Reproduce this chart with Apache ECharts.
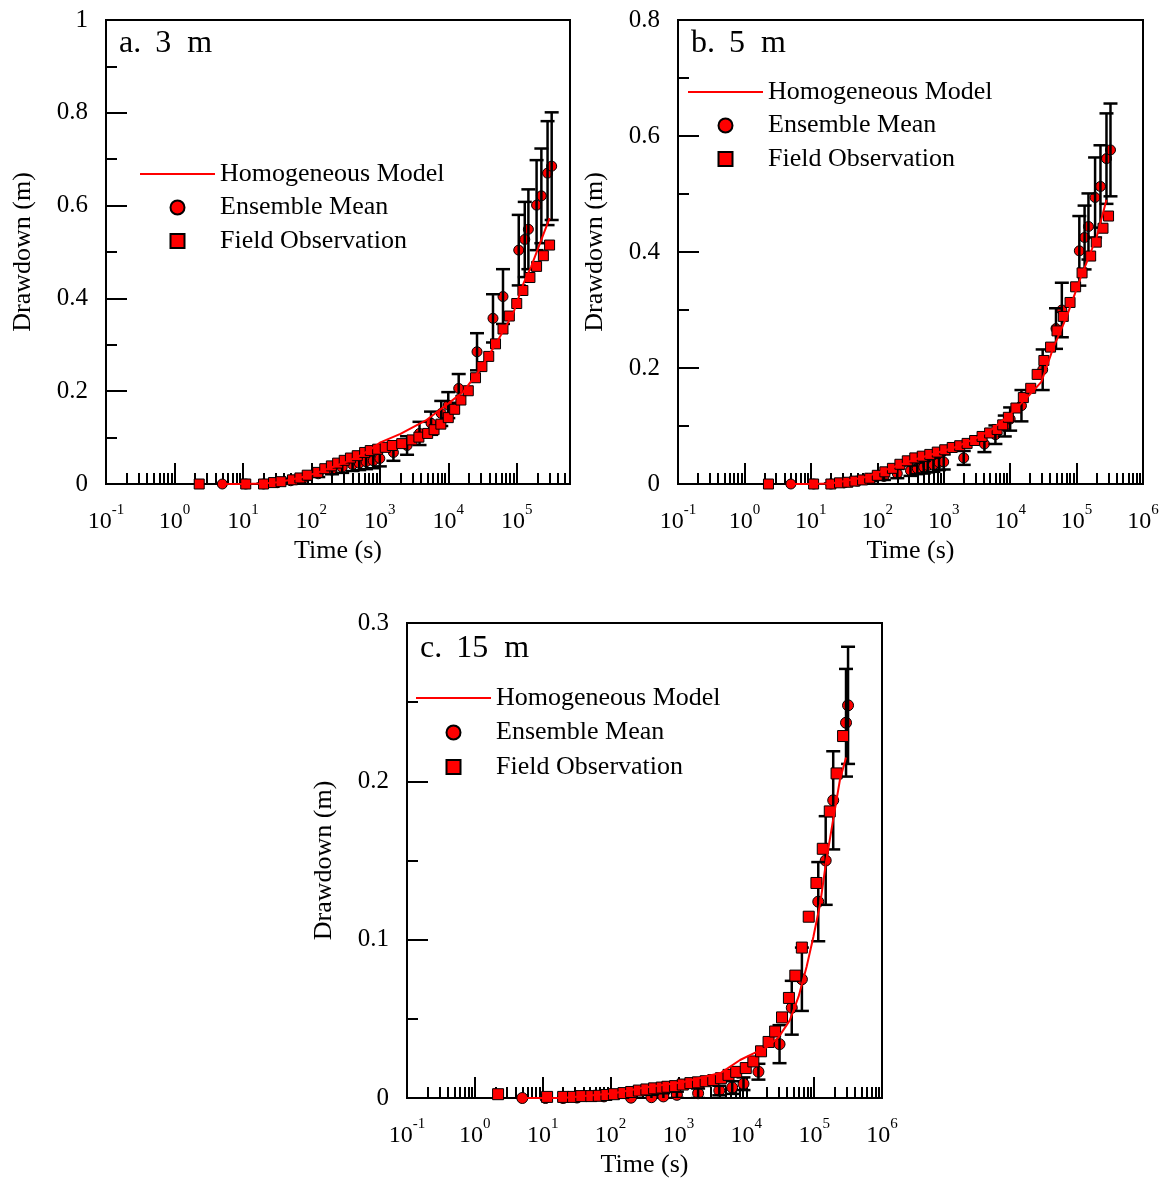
<!DOCTYPE html>
<html>
<head>
<meta charset="utf-8">
<script src="https://cdn.jsdelivr.net/npm/echarts@6/dist/echarts.min.js"></script>
<style>html,body{margin:0;padding:0;background:#fff}#c{width:1167px;height:1184px}</style>
</head>
<body>
<div id="c"></div>
<script>
// ---------------- DATA ----------------
// Panel a (3 m)
const modelA_t = [5, 10, 20, 32, 50, 80, 126, 200, 316, 500, 724, 1000, 2000, 4700, 9300, 16600, 28800, 50000, 89000, 126000, 162000, 219000, 302000];
const modelA_s = [0, 0, 0.001, 0.004, 0.009, 0.016, 0.025, 0.036, 0.047, 0.060, 0.074, 0.089, 0.108, 0.137, 0.170, 0.199, 0.246, 0.303, 0.368, 0.433, 0.468, 0.519, 0.573];
const ensA_t = [5, 11, 20, 32, 50, 80, 126, 200, 282, 400, 500, 630, 800, 1000, 1580, 2500, 3800, 5600, 7900, 10000, 14200, 26300, 45000, 63000, 107000, 131000, 148000, 195000, 229000, 282000, 324000];
const ensA_m = [0, 0, 0, 0.003, 0.007, 0.014, 0.022, 0.030, 0.036, 0.042, 0.045, 0.048, 0.050, 0.055, 0.068, 0.083, 0.109, 0.131, 0.152, 0.170, 0.206, 0.285, 0.357, 0.404, 0.504, 0.527, 0.549, 0.601, 0.621, 0.670, 0.685];
const ensA_e = [0, 0, 0.001, 0.002, 0.003, 0.005, 0.007, 0.009, 0.012, 0.014, 0.015, 0.016, 0.016, 0.017, 0.018, 0.020, 0.025, 0.025, 0.027, 0.028, 0.031, 0.040, 0.052, 0.059, 0.076, 0.081, 0.086, 0.097, 0.102, 0.112, 0.116];
const obsA_t = [2.3, 11, 20, 28, 36, 53, 68, 87, 124, 157, 196, 242, 302, 372, 468, 600, 724, 930, 1200, 1520, 2090, 2950, 3720, 5000, 6200, 7800, 10000, 12400, 15300, 19600, 25000, 31000, 39000, 49000, 63000, 78000, 100000, 123000, 156000, 195000, 245000, 302000];
const obsA_s = [0, 0, 0, 0.003, 0.005, 0.009, 0.013, 0.019, 0.025, 0.033, 0.039, 0.045, 0.051, 0.056, 0.061, 0.068, 0.072, 0.075, 0.079, 0.083, 0.087, 0.095, 0.101, 0.109, 0.117, 0.129, 0.143, 0.161, 0.181, 0.201, 0.229, 0.253, 0.275, 0.302, 0.334, 0.362, 0.389, 0.417, 0.445, 0.469, 0.492, 0.515];

// Panel b (5 m)
const modelB_t = [5, 10, 20, 62, 389, 1450, 3090, 5250, 10000, 19000, 29500, 44700, 70800, 117000, 200000, 282000];
const modelB_s = [0, 0, 0.001, 0.011, 0.043, 0.063, 0.079, 0.094, 0.120, 0.152, 0.176, 0.235, 0.288, 0.358, 0.425, 0.490];
const ensB_t = [5, 11, 20, 32, 50, 80, 126, 200, 316, 400, 500, 575, 700, 850, 1000, 2000, 4100, 6000, 8300, 10000, 14800, 30900, 49000, 60000, 110000, 132000, 151000, 190000, 229000, 282000, 324000];
const ensB_m = [0, 0, 0, 0.002, 0.005, 0.009, 0.013, 0.018, 0.023, 0.027, 0.029, 0.032, 0.033, 0.037, 0.038, 0.045, 0.069, 0.085, 0.100, 0.112, 0.135, 0.197, 0.268, 0.300, 0.402, 0.425, 0.444, 0.494, 0.513, 0.561, 0.576];
const ensB_e = [0, 0, 0.001, 0.002, 0.003, 0.004, 0.006, 0.008, 0.009, 0.010, 0.011, 0.012, 0.012, 0.013, 0.013, 0.012, 0.014, 0.016, 0.018, 0.020, 0.027, 0.035, 0.035, 0.047, 0.060, 0.055, 0.057, 0.069, 0.071, 0.078, 0.080];
const obsB_t = [2.3, 11, 20, 27, 36, 46, 60, 77, 100, 130, 169, 219, 283, 367, 475, 617, 800, 1035, 1343, 1740, 2250, 2920, 3780, 4910, 6370, 7730, 9400, 12200, 15800, 20400, 25500, 32200, 40600, 50700, 63100, 79800, 96800, 121000, 163000, 198000, 250000, 303000];
const obsB_s = [0, 0, 0, 0.002, 0.003, 0.005, 0.007, 0.010, 0.015, 0.021, 0.027, 0.034, 0.040, 0.045, 0.048, 0.051, 0.055, 0.059, 0.063, 0.066, 0.070, 0.075, 0.082, 0.088, 0.094, 0.102, 0.115, 0.131, 0.149, 0.165, 0.189, 0.213, 0.236, 0.264, 0.289, 0.313, 0.340, 0.364, 0.393, 0.417, 0.441, 0.462];

// Panel c (15 m)
const modelC_t = [5, 20, 112, 316, 1150, 4270, 8100, 12600, 20000, 29500, 43700, 58900, 77600, 97700, 123000, 151000, 191000, 240000, 295000];
const modelC_s = [0, 0, 0.003, 0.0066, 0.010, 0.016, 0.024, 0.028, 0.032, 0.038, 0.049, 0.064, 0.083, 0.102, 0.123, 0.150, 0.176, 0.201, 0.215];
const ensC_t = [5, 11, 20, 32, 80, 200, 400, 600, 950, 1950, 4000, 6200, 9100, 15100, 30900, 46800, 66000, 115000, 148000, 191000, 295000, 316000];
const ensC_m = [0, 0, 0, 0.0003, 0.001, 0.0002, 0.0005, 0.001, 0.002, 0.003, 0.0047, 0.0066, 0.009, 0.0166, 0.034, 0.057, 0.075, 0.124, 0.150, 0.188, 0.237, 0.248];
const ensC_e = [0, 0, 0, 0, 0.0005, 0.001, 0.0015, 0.002, 0.002, 0.003, 0.003, 0.004, 0.004, 0.005, 0.012, 0.017, 0.020, 0.025, 0.028, 0.031, 0.034, 0.037];
const obsC_t = [2.2, 11.6, 20, 28, 37, 52, 67, 87, 112, 155, 201, 261, 337, 438, 568, 689, 893, 1160, 1500, 1940, 2520, 3260, 4230, 5470, 7100, 9820, 12700, 16500, 21300, 26600, 33600, 42500, 52800, 65900, 83200, 108000, 134000, 170000, 214000, 267000];
const obsC_s = [0.0024, 0.0007, 0.0007, 0.0007, 0.0012, 0.0012, 0.0014, 0.0019, 0.0024, 0.0031, 0.0038, 0.0047, 0.0054, 0.0061, 0.0066, 0.0071, 0.0075, 0.0085, 0.0094, 0.0099, 0.0106, 0.0113, 0.0125, 0.0146, 0.0165, 0.0189, 0.0231, 0.0295, 0.0354, 0.042, 0.0509, 0.0632, 0.0773, 0.095, 0.1145, 0.1358, 0.1574, 0.181, 0.205, 0.2286];

// Tick values / labels / texts
const xMajorA = [0.1, 1, 10, 100, 1000, 10000, 100000];
const xMajorBC = [0.1, 1, 10, 100, 1000, 10000, 100000, 1000000];
const panelLetters = ['a.', 'b.', 'c.'];
const panelDepths = ['3', '5', '15'];
const panelUnit = 'm';
const legendNames = ['Homogeneous Model', 'Ensemble Mean', 'Field Observation'];
const xName = 'Time (s)';
const yName = 'Drawdown (m)';

// ---------------- LAYOUT / STYLE ----------------
const FONT = '"Liberation Serif", "Times New Roman", Times, serif';
const RED = '#ff0000';
const INK = '#000000';

const PANELS = [
  {box: [106, 20, 464, 464], xMax: 6e5, majors: xMajorA, yMax: 1, yStep: 0.2, leg: [140, 161], legGap: 7.5, titleTop: 28, mk: 10,
   model: [modelA_t, modelA_s], ens: [ensA_t, ensA_m, ensA_e], obs: [obsA_t, obsA_s]},
  {box: [678, 20, 465, 464], xMax: 1e6, majors: xMajorBC, yMax: 0.8, yStep: 0.2, leg: [688, 79], legGap: 7.5, titleTop: 28, mk: 10,
   model: [modelB_t, modelB_s], ens: [ensB_t, ensB_m, ensB_e], obs: [obsB_t, obsB_s]},
  {box: [407, 623, 475, 475], xMax: 1e6, majors: xMajorBC, yMax: 0.3, yStep: 0.1, leg: [416, 685], legGap: 8.5, titleTop: 633, mk: 11,
   model: [modelC_t, modelC_s], ens: [ensC_t, ensC_m, ensC_e], obs: [obsC_t, obsC_s]}
];

function minorTicks(maxV) {
  const out = [];
  for (let e = -1; e <= 6; e++) {
    for (let k = 2; k <= 9; k++) {
      const v = k * Math.pow(10, e);
      if (v <= maxV * 1.0001) out.push(v);
    }
  }
  return out;
}

const SQUARE_ICON = 'path://M0,0L10,0L10,10L0,10Z';
const LINE_ICON = 'path://M0,0L150,0L150,4L0,4Z';

const tickLine = {color: INK, width: 2};
const grids = [], xAxes = [], yAxes = [], series = [], titles = [], legends = [];

PANELS.forEach((p, i) => {
  grids.push({left: p.box[0], top: p.box[1], width: p.box[2], height: p.box[3], show: true,
    borderColor: INK, borderWidth: 2, backgroundColor: 'rgba(0,0,0,0)', containLabel: false, outerBoundsMode: 'none'});

  xAxes.push({
    type: 'log', logBase: 10, gridIndex: i, min: 0.1, max: p.xMax, position: 'bottom',
    axisLine: {show: true, lineStyle: {color: INK, width: 2}},
    axisTick: {show: true, inside: true, length: 21, lineStyle: tickLine, customValues: p.majors},
    minorTick: {show: false},
    splitLine: {show: false},
    axisLabel: {
      show: true, customValues: p.majors, margin: 19, color: INK, fontFamily: FONT,
      formatter: v => '{b|10}{s|' + Math.round(Math.log10(v)) + '}',
      rich: {
        b: {fontFamily: FONT, fontSize: 24, color: INK, lineHeight: 38},
        s: {fontFamily: FONT, fontSize: 15, color: INK, lineHeight: 15, verticalAlign: 'top'}
      }
    },
    name: xName, nameLocation: 'middle', nameGap: 54,
    nameTextStyle: {fontFamily: FONT, fontSize: 26, color: INK}
  });
  xAxes.push({
    type: 'log', logBase: 10, gridIndex: i, min: 0.1, max: p.xMax, position: 'bottom',
    axisLine: {show: false},
    axisTick: {show: true, inside: true, length: 11, lineStyle: tickLine, customValues: minorTicks(p.xMax)},
    axisLabel: {show: false},
    splitLine: {show: false}
  });
  yAxes.push({
    type: 'value', gridIndex: i, min: 0, max: p.yMax, interval: p.yStep,
    axisLine: {show: true, lineStyle: {color: INK, width: 2}},
    axisTick: {show: true, inside: true, length: 21, lineStyle: tickLine},
    minorTick: {show: true, splitNumber: 2, length: 11, lineStyle: tickLine},
    splitLine: {show: false}, minorSplitLine: {show: false},
    axisLabel: {margin: 18, color: INK, fontFamily: FONT, fontSize: 25},
    name: yName, nameLocation: 'middle', nameGap: 70, nameRotate: 90,
    nameTextStyle: {fontFamily: FONT, fontSize: 26, color: INK}
  });

  const xi = 2 * i;
  const ensData = p.ens[0].map((t, k) => [t, p.ens[1][k], p.ens[2][k]]);
  series.push({
    type: 'scatter', name: legendNames[1], xAxisIndex: xi, yAxisIndex: i, z: 2,
    symbol: 'circle', symbolSize: p.mk,
    itemStyle: {color: RED, borderColor: INK, borderWidth: 1, opacity: 1},
    data: ensData.map(d => [d[0], d[1]])
  });
  series.push({
    type: 'custom', name: 'err' + i, xAxisIndex: xi, yAxisIndex: i, z: 3, clip: true, silent: true,
    encode: {x: 0, y: 1},
    renderItem: (params, api) => {
      const x = api.value(0), m = api.value(1), e = api.value(2);
      if (!(e > 0)) return null;
      const top = api.coord([x, m + e]);
      const bot = api.coord([x, m - e]);
      const w = 7;
      const st = {stroke: INK, lineWidth: 2.5};
      return {type: 'group', children: [
        {type: 'line', shape: {x1: top[0], y1: top[1], x2: bot[0], y2: bot[1]}, style: st},
        {type: 'line', shape: {x1: top[0] - w, y1: top[1], x2: top[0] + w, y2: top[1]}, style: st},
        {type: 'line', shape: {x1: bot[0] - w, y1: bot[1], x2: bot[0] + w, y2: bot[1]}, style: st}
      ]};
    },
    data: ensData
  });
  series.push({
    type: 'scatter', name: legendNames[2], xAxisIndex: xi, yAxisIndex: i, z: 4,
    symbol: 'rect', symbolSize: p.mk,
    itemStyle: {color: RED, borderColor: INK, borderWidth: 1, opacity: 1},
    data: p.obs[0].map((t, k) => [t, p.obs[1][k]])
  });
  series.push({
    type: 'line', name: legendNames[0], xAxisIndex: xi, yAxisIndex: i, z: 5,
    symbol: 'none', showSymbol: false, smooth: false,
    lineStyle: {color: RED, width: 2}, itemStyle: {color: RED},
    data: p.model[0].map((t, k) => [t, p.model[1][k]])
  });

  const tStyle = {fontFamily: FONT, fontSize: 32, color: INK, lineHeight: 32};
  titles.push({
    text: '{l|' + panelLetters[i] + '} {n|' + panelDepths[i] + '} {u|' + panelUnit + '}',
    left: p.box[0] + 13, top: p.titleTop, padding: 0,
    textStyle: {fontFamily: FONT, fontSize: 32, fontWeight: 'normal', color: INK,
      rich: {l: tStyle, n: Object.assign({padding: [0, 0, 0, 6]}, tStyle), u: Object.assign({padding: [0, 0, 0, 8]}, tStyle)}}
  });

  legends.push({
    data: [
      {name: legendNames[0], icon: LINE_ICON, itemStyle: {color: RED, borderWidth: 0}},
      {name: legendNames[1]},
      {name: legendNames[2], icon: SQUARE_ICON}
    ],
    orient: 'vertical', left: p.leg[0], top: p.leg[1], padding: 0,
    itemWidth: 75, itemHeight: 14, itemGap: p.legGap, selectedMode: false, symbolKeepAspect: true,
    textStyle: {fontFamily: FONT, fontSize: 26, color: INK}
  });
});

const chart = echarts.init(document.getElementById('c'), null, {renderer: 'canvas'});
chart.setOption({
  animation: false,
  backgroundColor: '#ffffff',
  title: titles,
  legend: legends,
  grid: grids,
  xAxis: xAxes,
  yAxis: yAxes,
  series: series
});
</script>
</body>
</html>
